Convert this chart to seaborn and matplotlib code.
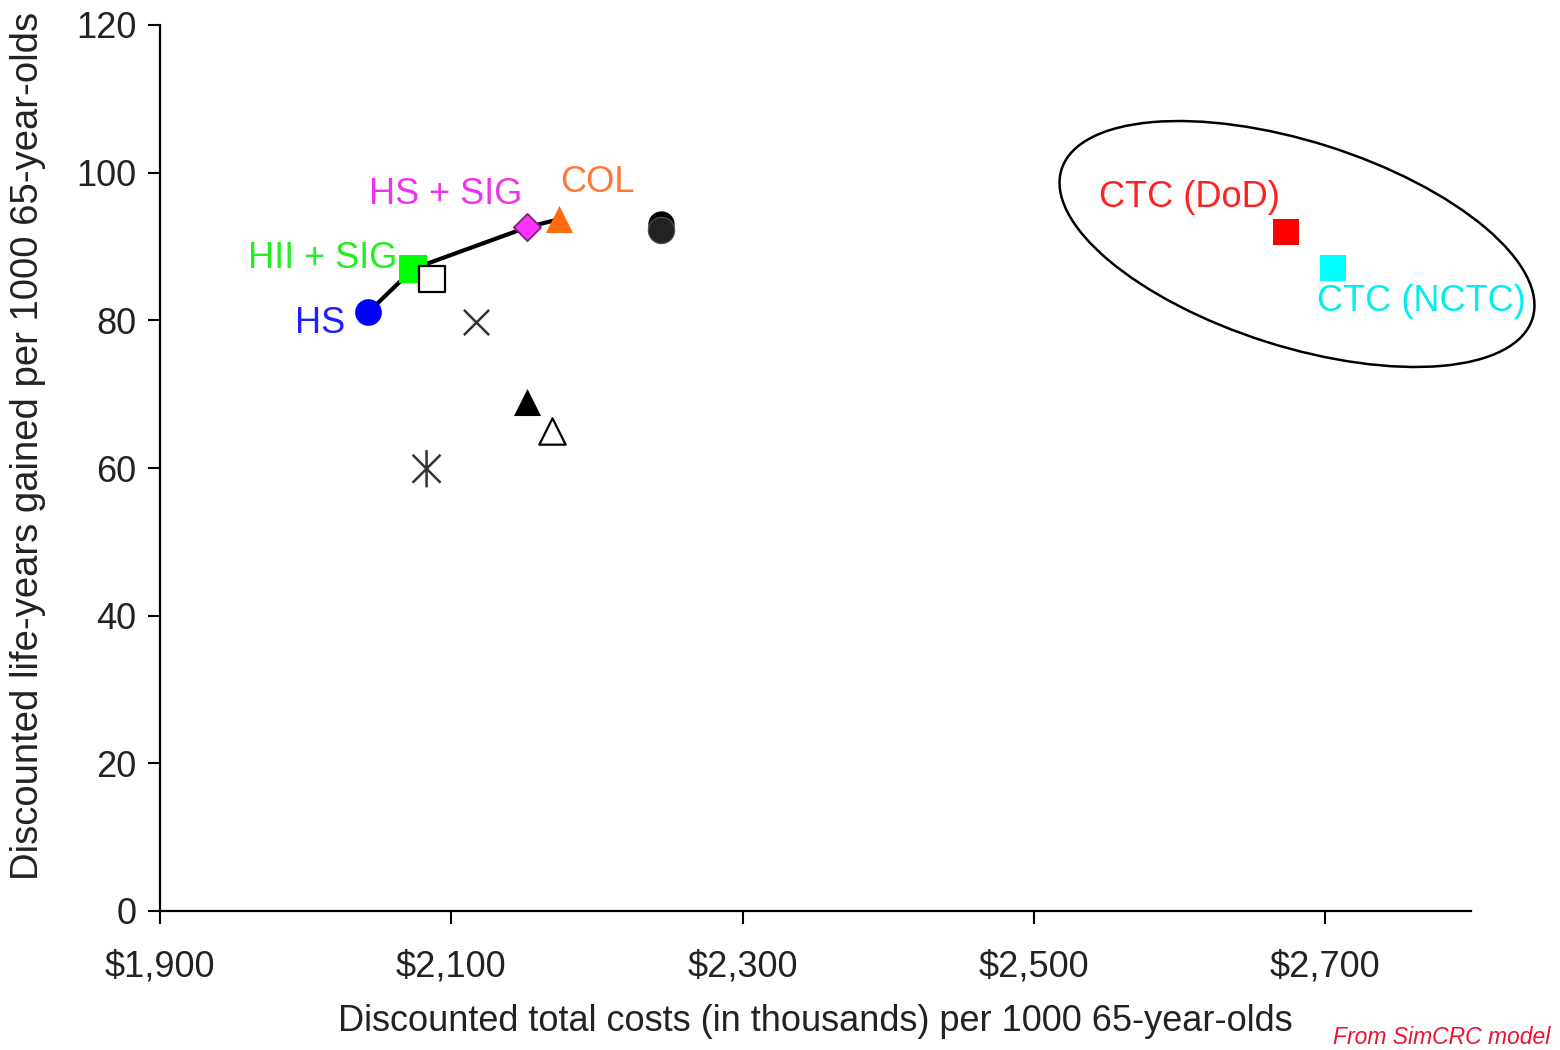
import matplotlib
matplotlib.use("Agg")
import matplotlib.pyplot as plt
import seaborn as sns
import numpy as np
import pandas as pd
from matplotlib.patches import Ellipse
from matplotlib.path import Path

# ---- data ----
strategy_names = ["HS", "HII + SIG", "Open square", "Cross", "HS + SIG", "COL",
                  "Circle A", "Circle B", "Filled triangle", "Open triangle",
                  "Asterisk", "CTC (DoD)", "CTC (NCTC)"]
costs = [2043, 2074, 2087, 2117, 2152, 2174, 2244, 2244, 2152, 2169, 2083, 2673, 2705]
life_years = [81.1, 87.0, 85.6, 79.8, 92.6, 93.7, 93.1, 92.3, 68.9, 65.0, 59.9, 92.0, 87.1]

frontier_names = ["HS", "HII + SIG", "HS + SIG", "COL"]

x_ticks = [1900, 2100, 2300, 2500, 2700]
x_tick_labels = ["$1,900", "$2,100", "$2,300", "$2,500", "$2,700"]
y_ticks = [0, 20, 40, 60, 80, 100, 120]

label_names = ["HS", "HII + SIG", "HS + SIG", "COL", "CTC (DoD)", "CTC (NCTC)"]
label_x = [2027, 2063, 2096, 2200, 2607, 2766]
label_y = [79.6, 88.4, 97.1, 98.7, 96.7, 82.5]

df = pd.DataFrame({"name": strategy_names, "cost": costs, "ly": life_years})

# ---- styles ----
asterisk = Path([(0, -1), (0, 1), (-0.75, -0.75), (0.75, 0.75), (-0.75, 0.75), (0.75, -0.75)],
                [Path.MOVETO, Path.LINETO, Path.MOVETO, Path.LINETO, Path.MOVETO, Path.LINETO])
styles = {
    "HS": dict(marker="o", s=370, color="#0000FF", edgecolor="#0000FF", linewidth=0),
    "HII + SIG": dict(marker="s", s=380, color="#00FF00", edgecolor="#00DD00", linewidth=0),
    "Open square": dict(marker="s", s=330, facecolor="white", edgecolor="black", linewidth=1.6),
    "Cross": dict(marker="x", s=330, color="#333333", linewidth=1.8),
    "HS + SIG": dict(marker="D", s=190, color="#FF33FF", edgecolor="#7a2a7a", linewidth=1.4),
    "COL": dict(marker="^", s=380, color="#FF6A10", edgecolor="#FF6A10", linewidth=0),
    "Circle A": dict(marker="o", s=360, color="black", edgecolor="black", linewidth=0),
    "Circle B": dict(marker="o", s=360, color="#222222", edgecolor="#555555", linewidth=0.8),
    "Filled triangle": dict(marker="^", s=380, color="black", edgecolor="black", linewidth=0),
    "Open triangle": dict(marker="^", s=360, facecolor="white", edgecolor="black", linewidth=1.6),
    "Asterisk": dict(marker=asterisk, s=720, facecolor="none", edgecolor="#333333", linewidth=1.8),
    "CTC (DoD)": dict(marker="s", s=340, color="#FF0000", edgecolor="#FF0000", linewidth=0),
    "CTC (NCTC)": dict(marker="s", s=340, color="#00FFFF", edgecolor="#00FFFF", linewidth=0),
}
label_colors = {"HS": "#2020FF", "HII + SIG": "#22EE22", "HS + SIG": "#EE33EE",
                "COL": "#FF7733", "CTC (DoD)": "#FF2020", "CTC (NCTC)": "#00EEEE"}
label_ha = {"HS": "right", "HII + SIG": "right", "HS + SIG": "center",
            "COL": "center", "CTC (DoD)": "center", "CTC (NCTC)": "center"}

sns.set_theme(style="ticks")
plt.rcParams["font.family"] = ["Liberation Sans", "DejaVu Sans"]

fig = plt.figure(figsize=(15.6, 10.5), dpi=100)
ax = fig.add_axes([160 / 1560, 1 - 911 / 1050, (1471 - 160) / 1560, (911 - 25) / 1050])

front = df.set_index("name").loc[frontier_names].reset_index()
sns.lineplot(data=front, x="cost", y="ly", sort=False, color="black", linewidth=3.0,
             ax=ax, zorder=2)

for name in strategy_names:
    sub = df[df["name"] == name]
    st = dict(styles[name])
    sns.scatterplot(data=sub, x="cost", y="ly", ax=ax, zorder=3, legend=False, **st)

for name, lx, ly in zip(label_names, label_x, label_y):
    ax.text(lx, ly, name, color=label_colors[name], fontsize=26,
            ha=label_ha[name], va="center", zorder=4)

# ellipse around CTC strategies (figure inches)
ell = Ellipse((12.97, 10.5 - 2.44), width=4.94, height=2.05, angle=-17.6,
              transform=fig.dpi_scale_trans, facecolor="none", edgecolor="black",
              linewidth=1.8, zorder=5)
fig.patches.append(ell)

ax.set_xlim(1900, 2800)
ax.set_ylim(0, 120)
ax.set_xticks(x_ticks)
ax.set_xticklabels(x_tick_labels)
ax.set_yticks(y_ticks)
ax.tick_params(axis="both", labelsize=26, length=9, width=1.5, colors="black",
               labelcolor="#222222")
ax.tick_params(axis="x", pad=19)
ax.tick_params(axis="y", pad=8)
for side in ["top", "right"]:
    ax.spines[side].set_visible(False)
for side in ["left", "bottom"]:
    ax.spines[side].set_linewidth(1.6)
    ax.spines[side].set_color("black")

ax.set_xlabel("Discounted total costs (in thousands) per 1000 65-year-olds",
              fontsize=26, color="#222222", labelpad=14)
ax.set_ylabel("Discounted life-years gained per 1000 65-year-olds",
              fontsize=27.5, color="#222222")
ax.yaxis.set_label_coords((46 - 160) / 1311, (911 - 446) / 886)

fig.text(1550 / 1560, 1 - 1037 / 1050, "From SimCRC model", color="#EE1133",
         fontsize=16.5, style="italic", ha="right", va="center")

fig.savefig("out.png", dpi=100)
